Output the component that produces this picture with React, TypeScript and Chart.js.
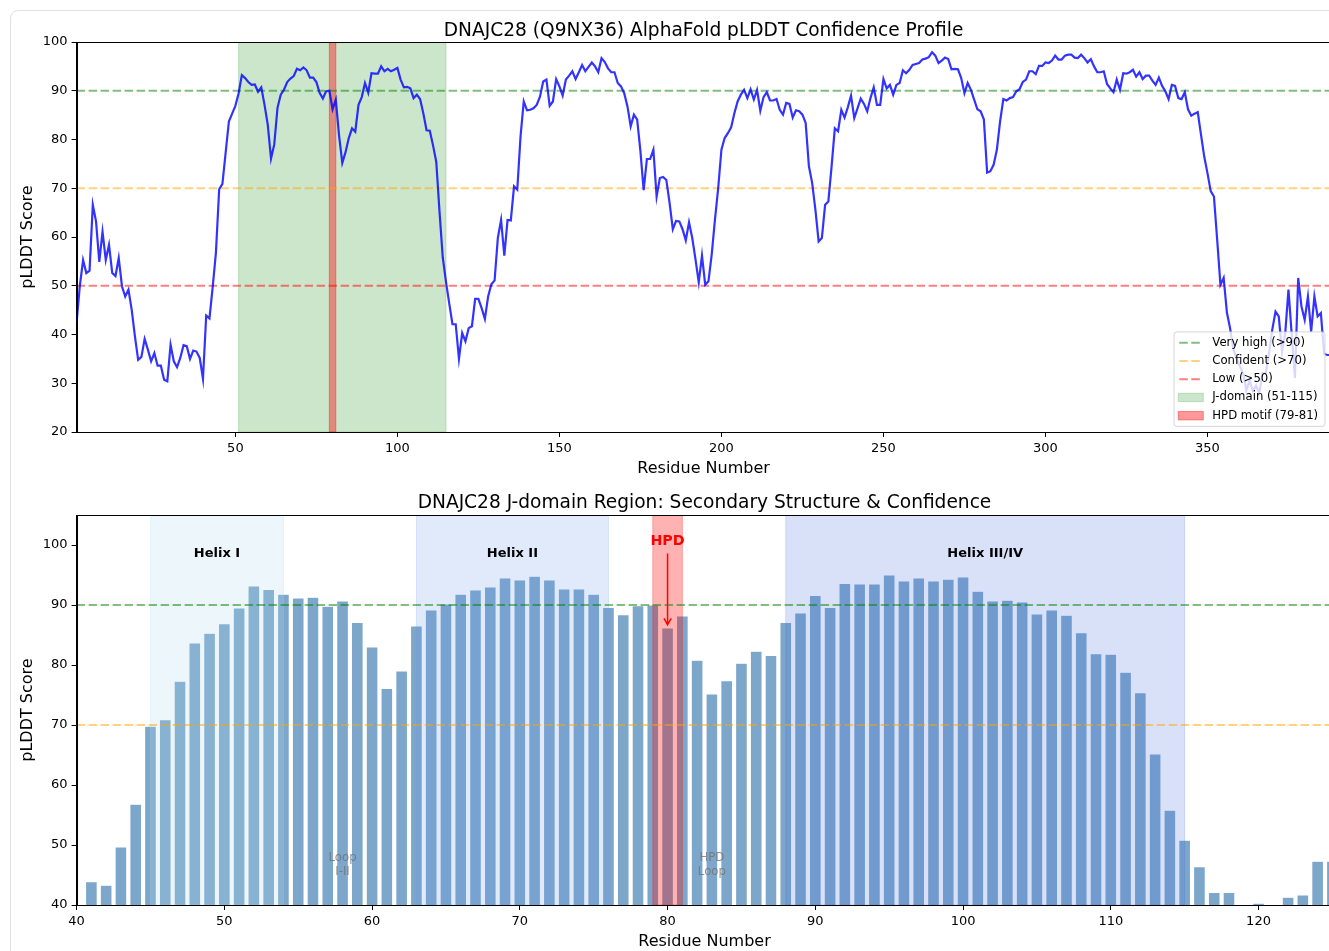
import React, { useEffect, useRef } from 'react';
import { Chart, registerables } from 'chart.js';

Chart.register(...registerables);
Chart.defaults.font.family = "'DejaVu Sans', sans-serif";
Chart.defaults.color = '#000';

// ---------------- DATA ----------------
const TOP_TITLE = 'DNAJC28 (Q9NX36) AlphaFold pLDDT Confidence Profile';
const BOTTOM_TITLE = 'DNAJC28 J-domain Region: Secondary Structure & Confidence';

const plddt: number[] = [
  42.5, 50.0, 55.3, 52.6, 53.1, 66.6, 63.2, 54.9, 61.1, 55.3,
  58.4, 52.6, 52.0, 55.7, 49.9, 47.8, 49.2, 45.1, 39.6, 34.8,
  35.4, 39.1, 36.9, 34.5, 36.2, 33.6, 33.6, 30.7, 30.4, 37.9,
  34.5, 33.3, 35.2, 37.8, 37.6, 35.0, 36.7, 36.5, 35.2, 30.9,
  43.9, 43.3, 49.7, 56.8, 69.8, 70.9, 77.3, 83.7, 85.3, 86.9,
  89.5, 93.2, 92.6, 91.8, 91.2, 91.3, 89.8, 90.7, 87.1, 83.0,
  76.1, 79.0, 86.5, 89.2, 90.2, 91.8, 92.5, 93.0, 94.5, 94.2,
  94.8, 94.2, 92.7, 92.7, 91.8, 89.6, 88.4, 89.9, 90.0, 86.2,
  88.2, 80.8, 75.2, 77.4, 80.3, 82.3, 81.6, 87.1, 88.7, 91.6,
  89.6, 93.6, 93.5, 93.5, 95.0, 94.0, 94.5, 94.0, 94.3, 94.7,
  92.3, 90.7, 90.8, 90.5, 88.5, 89.2, 88.3, 85.4, 81.9, 81.8,
  78.8, 75.4, 65.2, 55.8, 50.8, 46.4, 42.1, 42.1, 35.0, 40.3,
  38.6, 41.3, 41.7, 47.3, 47.3, 45.4, 43.2, 47.8, 50.3, 51.1,
  59.8, 63.5, 56.2, 63.5, 63.4, 70.4, 69.7, 80.6, 87.8, 86.0,
  86.1, 86.4, 87.1, 88.8, 91.9, 92.3, 86.9, 87.8, 92.4, 90.9,
  89.0, 92.3, 93.1, 94.0, 92.4, 93.8, 95.3, 94.0, 94.9, 95.8,
  95.0, 93.8, 96.7, 95.9, 94.6, 93.8, 93.8, 91.6, 90.9, 89.5,
  86.8, 82.7, 85.1, 84.1, 77.6, 69.6, 76.0, 76.0, 77.9, 68.3,
  72.1, 72.3, 71.7, 67.0, 61.6, 63.3, 63.2, 61.6, 59.3, 63.0,
  59.8, 55.4, 50.7, 56.2, 50.2, 50.9, 56.4, 63.5, 70.0, 77.9,
  80.3, 81.3, 82.5, 85.4, 87.8, 89.2, 90.2, 88.5, 90.3, 88.2,
  90.2, 85.9, 88.7, 89.7, 88.0, 88.0, 88.3, 86.1, 85.1, 87.5,
  87.3, 84.5, 86.0, 85.8, 85.1, 83.4, 74.5, 71.1, 65.6, 59.1,
  59.8, 66.6, 67.3, 74.5, 82.3, 81.7, 86.1, 84.5, 86.6, 89.0,
  84.4, 86.4, 88.4, 87.3, 85.8, 88.5, 90.7, 87.1, 87.1, 92.4,
  90.5, 91.2, 89.2, 91.2, 91.6, 94.2, 93.6, 94.3, 95.3, 95.5,
  95.7, 96.4, 96.6, 96.9, 97.9, 97.2, 95.7, 96.2, 96.8, 96.5,
  94.4, 94.5, 94.4, 92.6, 89.5, 91.6, 90.2, 88.2, 86.2, 85.8,
  84.1, 73.2, 73.5, 74.8, 77.9, 83.7, 88.3, 88.0, 88.5, 88.7,
  89.9, 90.3, 91.8, 92.3, 94.0, 94.0, 93.4, 95.1, 95.1, 95.8,
  95.7, 96.2, 97.2, 96.4, 96.4, 97.2, 97.4, 97.4, 96.8, 96.7,
  97.4, 96.7, 95.8, 96.5, 95.0, 93.8, 93.8, 94.0, 91.4, 90.5,
  89.7, 92.3, 90.2, 93.6, 93.5, 93.8, 94.3, 92.9, 93.8, 92.4,
  93.1, 93.1, 92.1, 91.2, 92.7, 91.0, 89.9, 88.3, 91.2, 91.0,
  88.5, 88.3, 89.7, 86.2, 84.9, 85.3, 85.6, 81.0, 76.5, 73.1,
  69.4, 68.3, 59.4, 50.2, 51.6, 44.5, 41.2, 37.0, 35.0, 33.5,
  32.0, 28.6, 30.6, 28.4, 29.5, 28.0, 32.1, 32.1, 36.2, 41.0,
  44.7, 43.7, 36.5, 40.3, 49.2, 40.0, 31.1, 51.6, 45.8, 43.0,
  47.8, 40.6, 47.8, 43.7, 44.4, 36.0, 35.8, 35.8,
];
const residues: number[] = plddt.map((_, i) => i + 1);

// J-domain zoom: residues 41..125
const zoomStart = 41;
const zoomEnd = 125;
const zoomResidues = residues.slice(zoomStart - 1, zoomEnd);
const zoomScores = plddt.slice(zoomStart - 1, zoomEnd);

const topXTicks = [50, 100, 150, 200, 250, 300, 350];
const topYTicks = [20, 30, 40, 50, 60, 70, 80, 90, 100];
const bottomXTicks = [40, 50, 60, 70, 80, 90, 100, 110, 120];
const bottomYTicks = [40, 50, 60, 70, 80, 90, 100];

const thresholdValues = [90, 70, 50];
const thresholdLabels = ['Very high (>90)', 'Confident (>70)', 'Low (>50)'];
const thresholdColors = ['rgba(0,128,0,0.5)', 'rgba(255,165,0,0.5)', 'rgba(255,0,0,0.5)'];

const jDomainRange = [51, 115];
const hpdRange = [79, 81];
const regionLabels = ['J-domain (51-115)', 'HPD motif (79-81)'];

const helixNames = ['Helix I', 'Helix II', 'Helix III/IV'];
const helixStarts = [45, 63, 88];
const helixEnds = [54, 76, 115];
const helixColors = ['rgba(173,216,230,0.22)', 'rgba(100,149,237,0.2)', 'rgba(65,105,225,0.2)'];

const loopLabels = [['Loop', 'I-II'], ['HPD', 'Loop']];
const loopCenters = [58, 83];

// ---------------- HELPERS ----------------
const DASH = [8.5, 3.5];

function clipArea(ctx: CanvasRenderingContext2D, chart: any) {
  const { left, top, right, bottom } = chart.chartArea;
  ctx.beginPath();
  ctx.rect(left, top, right - left, bottom - top);
  ctx.clip();
}

function hline(ctx: CanvasRenderingContext2D, chart: any, v: number, color: string) {
  const y = chart.scales.y.getPixelForValue(v);
  const { left, right } = chart.chartArea;
  ctx.save();
  ctx.strokeStyle = color;
  ctx.lineWidth = 2;
  ctx.setLineDash(DASH);
  ctx.beginPath();
  ctx.moveTo(left, y);
  ctx.lineTo(right, y);
  ctx.stroke();
  ctx.restore();
}

function vspan(ctx: CanvasRenderingContext2D, chart: any, a: number, b: number, color: string) {
  const x1 = chart.scales.x.getPixelForValue(a);
  const x2 = chart.scales.x.getPixelForValue(b);
  const { top, bottom } = chart.chartArea;
  ctx.save();
  ctx.fillStyle = color;
  ctx.fillRect(x1, top, x2 - x1, bottom - top);
  ctx.strokeStyle = color;
  ctx.lineWidth = 1;
  ctx.strokeRect(x1, top, x2 - x1, bottom - top);
  ctx.restore();
}

function frame(ctx: CanvasRenderingContext2D, chart: any) {
  const { left, top, right, bottom } = chart.chartArea;
  ctx.save();
  ctx.strokeStyle = '#000';
  ctx.lineWidth = 1;
  ctx.strokeRect(Math.round(left) + 0.5, Math.round(top) + 0.5, Math.round(right - left), Math.round(bottom - top));
  ctx.restore();
}

function axisCfg(min: number, max: number, ticks: number[], titleText: string, isX: boolean, fitSize: number, titlePad: any) {
  return {
    type: 'linear',
    min,
    max,
    offset: false,
    afterBuildTicks: (s: any) => {
      s.ticks = ticks.map((v) => ({ value: v }));
    },
    afterFit: (s: any) => {
      if (isX) s.height = fitSize;
      else s.width = fitSize;
    },
    grid: {
      display: true,
      drawOnChartArea: false,
      drawTicks: true,
      tickLength: 5,
      tickColor: '#000',
      tickWidth: 1,
      offset: false,
    },
    border: { display: true, color: '#000', width: 1 },
    ticks: { font: { size: 13 }, color: '#000', padding: 4, maxRotation: 0, autoSkip: false },
    title: { display: true, text: titleText, font: { size: 16 }, color: '#000', padding: titlePad },
  };
}

// ---------------- TOP CHART ----------------
const topPlugin = {
  id: 'topDecor',
  beforeDatasetsDraw(chart: any) {
    const ctx = chart.ctx;
    ctx.save();
    clipArea(ctx, chart);
    vspan(ctx, chart, jDomainRange[0], jDomainRange[1], 'rgba(0,128,0,0.2)');
    vspan(ctx, chart, hpdRange[0], hpdRange[1], 'rgba(255,0,0,0.4)');
    thresholdValues.forEach((v, i) => hline(ctx, chart, v, thresholdColors[i]));
    ctx.restore();
  },
  afterDraw(chart: any) {
    const ctx = chart.ctx;
    frame(ctx, chart);
    // legend (lower right)
    const { right, bottom } = chart.chartArea;
    const bw = 151;
    const bh = 94.5;
    const bx = right - 5.6 - bw;
    const by = bottom - 5.6 - bh;
    ctx.save();
    ctx.beginPath();
    const r = 3;
    ctx.moveTo(bx + r, by);
    ctx.lineTo(bx + bw - r, by);
    ctx.quadraticCurveTo(bx + bw, by, bx + bw, by + r);
    ctx.lineTo(bx + bw, by + bh - r);
    ctx.quadraticCurveTo(bx + bw, by + bh, bx + bw - r, by + bh);
    ctx.lineTo(bx + r, by + bh);
    ctx.quadraticCurveTo(bx, by + bh, bx, by + bh - r);
    ctx.lineTo(bx, by + r);
    ctx.quadraticCurveTo(bx, by, bx + r, by);
    ctx.closePath();
    ctx.fillStyle = 'rgba(255,255,255,0.8)';
    ctx.fill();
    ctx.strokeStyle = 'rgba(204,204,204,0.8)';
    ctx.lineWidth = 1;
    ctx.stroke();

    const labels = [...thresholdLabels, ...regionLabels];
    ctx.font = "11.7px 'DejaVu Sans', sans-serif";
    ctx.textBaseline = 'middle';
    ctx.textAlign = 'left';
    labels.forEach((lab, i) => {
      const y = by + 10.8 + i * 18.25;
      if (i < 3) {
        ctx.save();
        ctx.strokeStyle = thresholdColors[i];
        ctx.lineWidth = 2;
        ctx.setLineDash(DASH);
        ctx.beginPath();
        ctx.moveTo(bx + 5.3, y);
        ctx.lineTo(bx + 29.3, y);
        ctx.stroke();
        ctx.restore();
      } else {
        const col = i === 3 ? 'rgba(0,128,0,0.2)' : 'rgba(255,0,0,0.4)';
        ctx.fillStyle = col;
        ctx.fillRect(bx + 4.3, y - 4.2, 25, 8.4);
        ctx.strokeStyle = col;
        ctx.lineWidth = 1;
        ctx.strokeRect(bx + 4.3, y - 4.2, 25, 8.4);
      }
      ctx.fillStyle = '#000';
      ctx.fillText(lab, bx + 38.3, y);
    });
    ctx.restore();
  },
};

function TopChart() {
  const ref = useRef<HTMLCanvasElement>(null);
  useEffect(() => {
    const chart = new Chart(ref.current as HTMLCanvasElement, {
      type: 'line',
      data: {
        datasets: [
          {
            data: residues.map((r, i) => ({ x: r, y: plddt[i] })),
            borderColor: 'rgba(0,0,255,0.8)',
            borderWidth: 2.2,
            pointRadius: 0,
            tension: 0,
            fill: false,
          },
        ],
      },
      options: {
        responsive: false,
        animation: false,
        events: [],
        layout: { padding: { left: 0, right: 1340 - 1330.6, top: 0, bottom: 0 } },
        plugins: {
          legend: { display: false },
          tooltip: { enabled: false },
          title: {
            display: true,
            text: TOP_TITLE,
            fullSize: false,
            color: '#000',
            font: { size: 18.6, weight: 'normal' },
            padding: { top: 19.7, bottom: 0 },
          },
        },
        scales: {
          x: axisCfg(1, 388, topXTicks, 'Residue Number', true, 53, { top: 0, bottom: 6.4 }),
          y: axisCfg(20, 100, topYTicks, 'pLDDT Score', false, 76.6, { top: 18.4, bottom: 0 }),
        },
      } as any,
      plugins: [topPlugin],
    });
    return () => chart.destroy();
  }, []);
  return (
    <canvas
      ref={ref}
      width={1340}
      height={485}
      style={{ position: 'absolute', left: 0, top: 0, width: 1340, height: 485 }}
    />
  );
}

// ---------------- BOTTOM CHART ----------------
const bottomPlugin = {
  id: 'bottomDecor',
  afterDatasetsDraw(chart: any) {
    const ctx = chart.ctx;
    const xs = chart.scales.x;
    const ys = chart.scales.y;
    ctx.save();
    clipArea(ctx, chart);
    helixNames.forEach((_, i) => vspan(ctx, chart, helixStarts[i], helixEnds[i], helixColors[i]));
    vspan(ctx, chart, hpdRange[0], hpdRange[1], 'rgba(255,0,0,0.3)');
    hline(ctx, chart, thresholdValues[0], thresholdColors[0]);
    hline(ctx, chart, thresholdValues[1], thresholdColors[1]);
    ctx.restore();

    ctx.save();
    ctx.textAlign = 'center';
    ctx.textBaseline = 'middle';
    // helix labels
    ctx.font = "bold 13px 'DejaVu Sans', sans-serif";
    ctx.fillStyle = '#000';
    helixNames.forEach((n, i) => {
      const x = xs.getPixelForValue((helixStarts[i] + helixEnds[i]) / 2);
      ctx.fillText(n, x, ys.getPixelForValue(98.5));
    });
    // HPD label and arrow
    const hx = xs.getPixelForValue((hpdRange[0] + hpdRange[1]) / 2);
    ctx.font = "bold 14.3px 'DejaVu Sans', sans-serif";
    ctx.fillStyle = '#ff0000';
    ctx.fillText('HPD', hx, ys.getPixelForValue(100.6));
    const y0 = ys.getPixelForValue(98.6);
    const y1 = ys.getPixelForValue(86.7);
    ctx.strokeStyle = '#ff0000';
    ctx.lineWidth = 1.5;
    ctx.beginPath();
    ctx.moveTo(hx, y0);
    ctx.lineTo(hx, y1);
    ctx.moveTo(hx - 3.6, y1 - 6.5);
    ctx.lineTo(hx, y1);
    ctx.lineTo(hx + 3.6, y1 - 6.5);
    ctx.stroke();
    // loop labels
    ctx.font = "11.7px 'DejaVu Sans', sans-serif";
    ctx.fillStyle = 'rgba(110,110,110,0.75)';
    loopLabels.forEach((lines, i) => {
      const x = xs.getPixelForValue(loopCenters[i]);
      const yc = ys.getPixelForValue(46.6);
      ctx.fillText(lines[0], x, yc - 7);
      ctx.fillText(lines[1], x, yc + 7);
    });
    ctx.restore();
  },
  afterDraw(chart: any) {
    frame(chart.ctx, chart);
  },
};

function BottomChart() {
  const ref = useRef<HTMLCanvasElement>(null);
  useEffect(() => {
    const chart = new Chart(ref.current as HTMLCanvasElement, {
      type: 'bar',
      data: {
        datasets: [
          {
            data: zoomResidues.map((r, i) => ({ x: r, y: zoomScores[i] })),
            backgroundColor: 'rgba(70,130,180,0.7)',
            borderColor: 'rgba(255,255,255,0.6)',
            borderWidth: 0.6,
            barPercentage: 1,
            categoryPercentage: 0.8,
          },
        ],
      },
      options: {
        responsive: false,
        animation: false,
        events: [],
        layout: { padding: { left: 0, right: 1340 - 1332.4, top: 0, bottom: 0 } },
        plugins: {
          legend: { display: false },
          tooltip: { enabled: false },
          title: {
            display: true,
            text: BOTTOM_TITLE,
            fullSize: false,
            color: '#000',
            font: { size: 18.6, weight: 'normal' },
            padding: { top: 6.85, bottom: 0.85 },
          },
        },
        scales: {
          x: axisCfg(40, 125, bottomXTicks, 'Residue Number', true, 55, { top: 0, bottom: 8.6 }),
          y: axisCfg(40, 105, bottomYTicks, 'pLDDT Score', false, 76.6, { top: 18.4, bottom: 0 }),
        },
      } as any,
      plugins: [bottomPlugin],
    });
    return () => chart.destroy();
  }, []);
  return (
    <canvas
      ref={ref}
      width={1340}
      height={475}
      style={{ position: 'absolute', left: 0, top: 485, width: 1340, height: 475 }}
    />
  );
}

export default function App() {
  return (
    <div
      style={{
        position: 'fixed',
        left: 0,
        top: 0,
        width: 1329,
        height: 951,
        overflow: 'hidden',
        background: '#fff',
      }}
    >
      <div
        style={{
          position: 'absolute',
          left: 10,
          top: 10,
          width: 1420,
          height: 1000,
          border: '1px solid #e2e2e2',
          borderRadius: 8,
          boxSizing: 'border-box',
        }}
      />
      <TopChart />
      <BottomChart />
    </div>
  );
}
